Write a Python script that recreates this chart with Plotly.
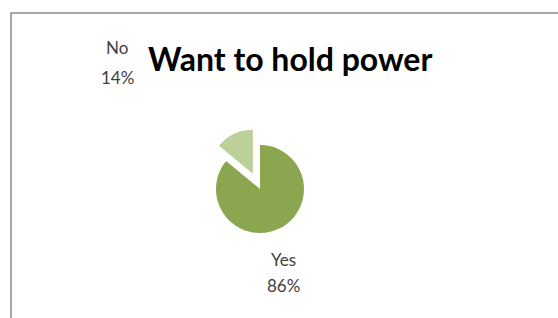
import plotly.graph_objects as go

labels = ["Yes", "No"]
values = [86, 14]
colors = ["#8AA64F", "#BCD09A"]
title_text = "Want to hold power"

W, H = 558, 318
FONT = "Lato, Open Sans, sans-serif"

# pie radius r = min(domain size) / (2 * (1 + max pull))
pull_no = 0.38
r = 44
cx, cy = 260, 189
half = r * (1 + pull_no)

fig = go.Figure(go.Pie(
    labels=labels,
    values=values,
    marker=dict(colors=colors, line=dict(width=0)),
    pull=[0, pull_no],
    sort=False,
    direction="clockwise",
    rotation=0,
    textinfo="none",
    hoverinfo="label+percent",
    domain=dict(x=[(cx - half) / W, (cx + half) / W],
                y=[1 - (cy + half) / H, 1 - (cy - half) / H]),
    showlegend=False,
))

total = sum(values)
# (x, y of name line, y of percent line) in pixels
label_pos = {"No": (117, 48, 77), "Yes": (283, 259, 285)}
for lab, val in zip(labels, values):
    px, py1, py2 = label_pos[lab]
    for txt, py in ((lab, py1), (f"{round(100 * val / total)}%", py2)):
        fig.add_annotation(
            x=px / W, y=1 - py / H, xref="paper", yref="paper",
            text=txt, showarrow=False, align="center",
            font=dict(family=FONT, size=17, color="#404040"),
            xanchor="center", yanchor="middle",
        )

fig.add_annotation(
    x=290 / W, y=1 - 59 / H, xref="paper", yref="paper",
    text=f"<b>{title_text}</b>", showarrow=False,
    font=dict(family=FONT, size=32, color="#000000"),
    xanchor="center", yanchor="middle",
)

fig.add_shape(type="rect", xref="paper", yref="paper",
              x0=11 / W, x1=1.05, y0=-0.05, y1=1 - 13 / H,
              line=dict(color="#8C8C8C", width=1.5))

fig.update_layout(
    width=W, height=H,
    margin=dict(l=0, r=0, t=0, b=0),
    paper_bgcolor="white", plot_bgcolor="white",
)

fig.write_html("out.html", config={"displayModeBar": False},
               post_script="document.body.style.margin='0';")
